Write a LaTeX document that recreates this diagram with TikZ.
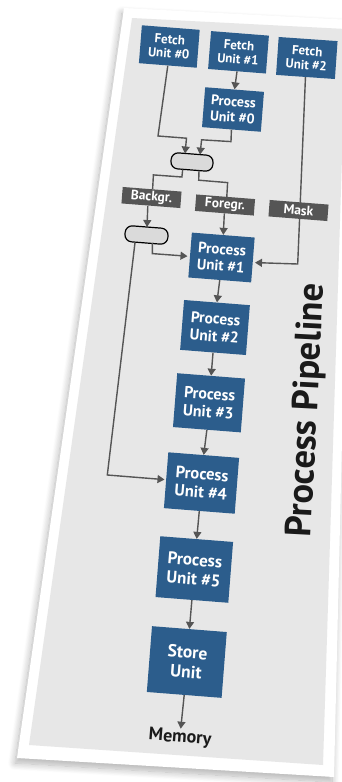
\documentclass[tikz,border=0pt]{standalone}
\usepackage{fontspec}
\setmainfont{PT Sans}
\usetikzlibrary{arrows.meta,shadows.blur}
\definecolor{unitblue}{HTML}{2C5D8C}
\definecolor{taggray}{HTML}{555555}
\definecolor{linegray}{HTML}{555555}
\definecolor{panelgray}{HTML}{E7E7E7}
\definecolor{pillgray}{HTML}{DADADA}
\definecolor{titleblack}{HTML}{1A1A1A}
\newcommand{\fsz}[2]{\fontsize{#1}{#2}\selectfont\bfseries}
\begin{document}
\begin{tikzpicture}[x=1pt,y=-1pt,
  unit/.style={fill=unitblue, text=white, align=center, inner sep=0pt, rotate=-4.5},
  tag/.style={fill=taggray, text=white, inner sep=0pt, minimum width=59pt, minimum height=16.5pt, rotate=-4.5, font={\fsz{13.5}{13.5}}},
  pill/.style={draw=black, line width=1.2pt, fill=pillgray, rounded corners=7pt, minimum width=42pt, minimum height=16pt, inner sep=0pt, rotate=-4.5},
  conn/.style={draw=linegray, line width=1.4pt},
  arr/.style={conn, -{Triangle[length=7pt,width=8pt]}}
]
\useasboundingbox (0,0) rectangle (342,782);
% panel
\fill[white, blur shadow={shadow xshift=-2pt, shadow yshift=-5pt, shadow blur radius=7pt, shadow blur steps=12, shadow opacity=30}]
  (124,8) -- (352,20) -- (334,777) -- (17,758) -- cycle;
\fill[panelgray] (132,18) -- (346,29) -- (323,765) -- (29,745) -- cycle;

% connector coordinates
\coordinate (a1) at (158,136);
\coordinate (a2) at (186.5,138.2);
\coordinate (a3) at (185,153.5);
\coordinate (b1) at (231,141.6);
\coordinate (b2) at (201.6,139.8);
\coordinate (b3) at (200,154.6);
\coordinate (c0) at (182.7,169.5);
\coordinate (c1) at (181.9,177);
\coordinate (c2) at (153.4,174.9);
\coordinate (c3) at (152.6,189.4);
\coordinate (d0) at (199,170.7);
\coordinate (d1) at (198.7,180.2);
\coordinate (d2) at (227.6,182.6);
\coordinate (d3) at (226.8,196.9);
\coordinate (e0) at (147.8,206);
\coordinate (e1) at (147,227);
\coordinate (f1) at (297.7,264);
\coordinate (f2) at (255,262.6);
\coordinate (g0) at (152.4,242.8);
\coordinate (g1) at (152.3,253.6);
\coordinate (g2) at (187.5,256.2);
\coordinate (h0) at (135,242.6);
\coordinate (h1) at (107.3,475);
\coordinate (h2) at (164.5,479.6);

% nodes
\node[unit, minimum width=58pt, minimum height=38pt, font={\fsz{13}{14}}] (fu0) at (169.3,46.5) {Fetch\\Unit \#0};
\node[unit, minimum width=58pt, minimum height=38pt, font={\fsz{13}{14}}] (fu1) at (238.5,52.3) {Fetch\\Unit \#1};
\node[unit, minimum width=59pt, minimum height=38pt, font={\fsz{13}{14}}, rotate=0.5] (fu2) at (306.8,58) {Fetch\\Unit \#2};
\node[unit, minimum width=59pt, minimum height=40pt, font={\fsz{14}{15.5}}] (pu0) at (233,109.5) {Process\\Unit \#0};
\node[pill] (m1) at (192,162) {};
\node[pill, minimum width=43pt] (m2) at (146.5,235) {};

% connectors (drawn before tags so that the mask line passes under)
\draw[arr] (fu1.south) -- (pu0.north);
\draw[arr] (fu0.south) -- (a1) -- (a2) -- (a3);
\draw[arr] (pu0.south) -- (b1) -- (b2) -- (b3);
\draw[conn] (c0) -- (c1) -- (c2) -- (c3);
\draw[conn] (d0) -- (d1) -- (d2) -- (d3);
\draw[arr] (fu2.south) -- (f1) -- (f2);

\node[tag] (bg) at (151.5,197.5) {Backgr.};
\node[tag] (fg) at (225,205) {Foregr.};
\node[tag] (mk) at (298.5,210.5) {Mask};

\node[unit, minimum width=63pt, minimum height=45pt, font={\fsz{15}{16.5}}] (pu1) at (221.5,257.5) {Process\\Unit \#1};
\node[unit, minimum width=66pt, minimum height=50pt, font={\fsz{15.5}{17.5}}] (pu2) at (215,327.5) {Process\\Unit \#2};
\node[unit, minimum width=68pt, minimum height=54pt, font={\fsz{16}{18}}] (pu3) at (209,402.8) {Process\\Unit \#3};
\node[unit, minimum width=71pt, minimum height=56pt, font={\fsz{16.5}{18.5}}] (pu4) at (201.5,483) {Process\\Unit \#4};
\node[unit, minimum width=73pt, minimum height=61pt, font={\fsz{17}{19}}] (pu5) at (194.3,569.5) {Process\\Unit \#5};
\node[unit, minimum width=75pt, minimum height=66pt, font={\fsz{17.5}{20}}] (su) at (186.8,662) {Store\\Unit};
\node[text=titleblack, font={\fsz{18}{20}}, rotate=-4.5, inner sep=1pt] (mem) at (180,738) {Memory};
\node[text=titleblack, font={\fsz{36.5}{40}}, rotate=87, inner sep=0pt] (title) at (308,410) {Process Pipeline};

\draw[arr] (e0) -- (e1);
\draw[arr] (fg.south) -- (pu1.north);
\draw[arr] (g0) -- (g1) -- (g2);
\draw[arr] (h0) -- (h1) -- (h2);
\draw[arr] (pu1.south) -- (pu2.north);
\draw[arr] (pu2.south) -- (pu3.north);
\draw[arr] (pu3.south) -- (pu4.north);
\draw[arr] (pu4.south) -- (pu5.north);
\draw[arr] (pu5.south) -- (su.north);
\draw[arr] (su.south) -- (mem.north);
\end{tikzpicture}
\end{document}
